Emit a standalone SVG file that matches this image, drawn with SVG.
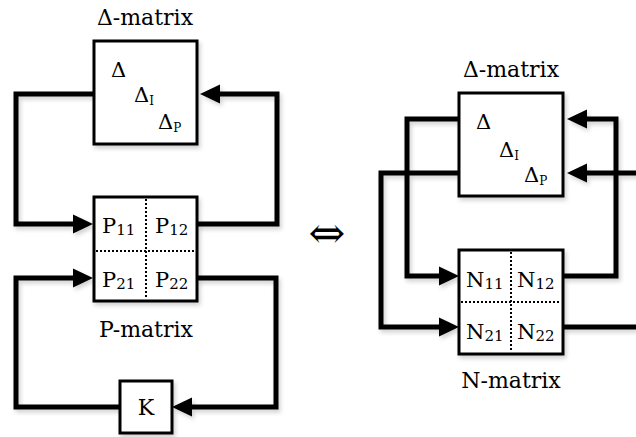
<svg xmlns="http://www.w3.org/2000/svg" width="636" height="437" viewBox="0 0 636 437">
  <style>
    .box { fill: #fff; stroke: #000; stroke-width: 3; }
    .wire { fill: none; stroke: #000; stroke-width: 5; stroke-linejoin: miter; stroke-linecap: butt; }
    .dots { fill: none; stroke: #000; stroke-width: 2; stroke-dasharray: 2 2; }
    text { font-family: "DejaVu Serif", "Liberation Serif", serif; fill: #000; }
    .lbl { font-size: 22px; text-anchor: middle; }
    .sym { font-size: 21px; }
    .sub { font-size: 15px; }
    .tiny { font-size: 12px; }
  </style>
  <defs>
    <filter id="shadow" x="-10%" y="-10%" width="130%" height="130%">
      <feDropShadow dx="2" dy="3" stdDeviation="2" flood-color="#000" flood-opacity="0.18"/>
    </filter>
    <marker id="arrow" markerUnits="userSpaceOnUse" markerWidth="22" markerHeight="22" viewBox="0 -11 22 22" refX="0" refY="0" orient="auto">
      <path d="M0,-9.5 L20,0 L0,9.5 z" fill="#000"/>
    </marker>
  </defs>

  <rect width="636" height="437" fill="#fff"/>

  <!-- connectors -->
  <g id="connectors" filter="url(#shadow)">
    <!-- left loop: Δ / P / K -->
    <path class="wire" d="M94,94 H16 V224 H73" marker-end="url(#arrow)"/>
    <path class="wire" d="M197,224 H277 V94 H220" marker-end="url(#arrow)"/>
    <path class="wire" d="M197,278 H276 V407 H192" marker-end="url(#arrow)"/>
    <path class="wire" d="M120,407 H16 V278 H73" marker-end="url(#arrow)"/>
    <!-- right loop: Δ / N -->
    <path class="wire" d="M459,119 H407 V276 H439" marker-end="url(#arrow)"/>
    <path class="wire" d="M459,173 H381 V327 H439" marker-end="url(#arrow)"/>
    <path class="wire" d="M563,276 H616 V119 H587" marker-end="url(#arrow)"/>
    <path class="wire" d="M563,327 H648 V173 H587" marker-end="url(#arrow)"/>
  </g>

  <!-- left Δ-matrix -->
  <g id="delta-left">
    <text class="lbl" x="145" y="25">Δ-matrix</text>
    <rect class="box" x="94" y="41" width="103" height="103" filter="url(#shadow)"/>
    <text class="sym" x="111" y="77">Δ</text>
    <text class="sym" x="134" y="102">Δ<tspan class="tiny" dy="3">I</tspan></text>
    <text class="sym" x="158" y="129">Δ<tspan class="tiny" dy="3">P</tspan></text>
  </g>

  <!-- P-matrix -->
  <g id="p-matrix">
    <rect class="box" x="94" y="197" width="103" height="104" filter="url(#shadow)"/>
    <path class="dots" d="M146,199 V299 M96,251 H195"/>
    <text class="sym" x="102" y="233">P<tspan class="sub" dy="2">11</tspan></text>
    <text class="sym" x="155" y="233">P<tspan class="sub" dy="2">12</tspan></text>
    <text class="sym" x="102" y="287">P<tspan class="sub" dy="2">21</tspan></text>
    <text class="sym" x="155" y="287">P<tspan class="sub" dy="2">22</tspan></text>
    <text class="lbl" x="146" y="337">P-matrix</text>
  </g>

  <!-- controller K -->
  <g id="k-block">
    <rect class="box" x="120" y="381" width="52" height="52" filter="url(#shadow)"/>
    <text class="lbl" x="146" y="415">K</text>
  </g>

  <!-- equivalence sign -->
  <g id="equiv">
    <text x="327" y="248" font-family="DejaVu Sans, sans-serif" font-size="44" text-anchor="middle">⇔</text>
  </g>

  <!-- right Δ-matrix -->
  <g id="delta-right">
    <text class="lbl" x="511" y="77">Δ-matrix</text>
    <rect class="box" x="459" y="93" width="104" height="103" filter="url(#shadow)"/>
    <text class="sym" x="476" y="129">Δ</text>
    <text class="sym" x="499" y="157">Δ<tspan class="tiny" dy="3">I</tspan></text>
    <text class="sym" x="524" y="182">Δ<tspan class="tiny" dy="3">P</tspan></text>
  </g>

  <!-- N-matrix -->
  <g id="n-matrix">
    <rect class="box" x="459" y="250" width="104" height="104" filter="url(#shadow)"/>
    <path class="dots" d="M511,252 V352 M461,302 H561"/>
    <text class="sym" x="466" y="287">N<tspan class="sub" dy="2">11</tspan></text>
    <text class="sym" x="517" y="287">N<tspan class="sub" dy="2">12</tspan></text>
    <text class="sym" x="466" y="339">N<tspan class="sub" dy="2">21</tspan></text>
    <text class="sym" x="517" y="339">N<tspan class="sub" dy="2">22</tspan></text>
    <text class="lbl" x="511" y="388">N-matrix</text>
  </g>
</svg>
